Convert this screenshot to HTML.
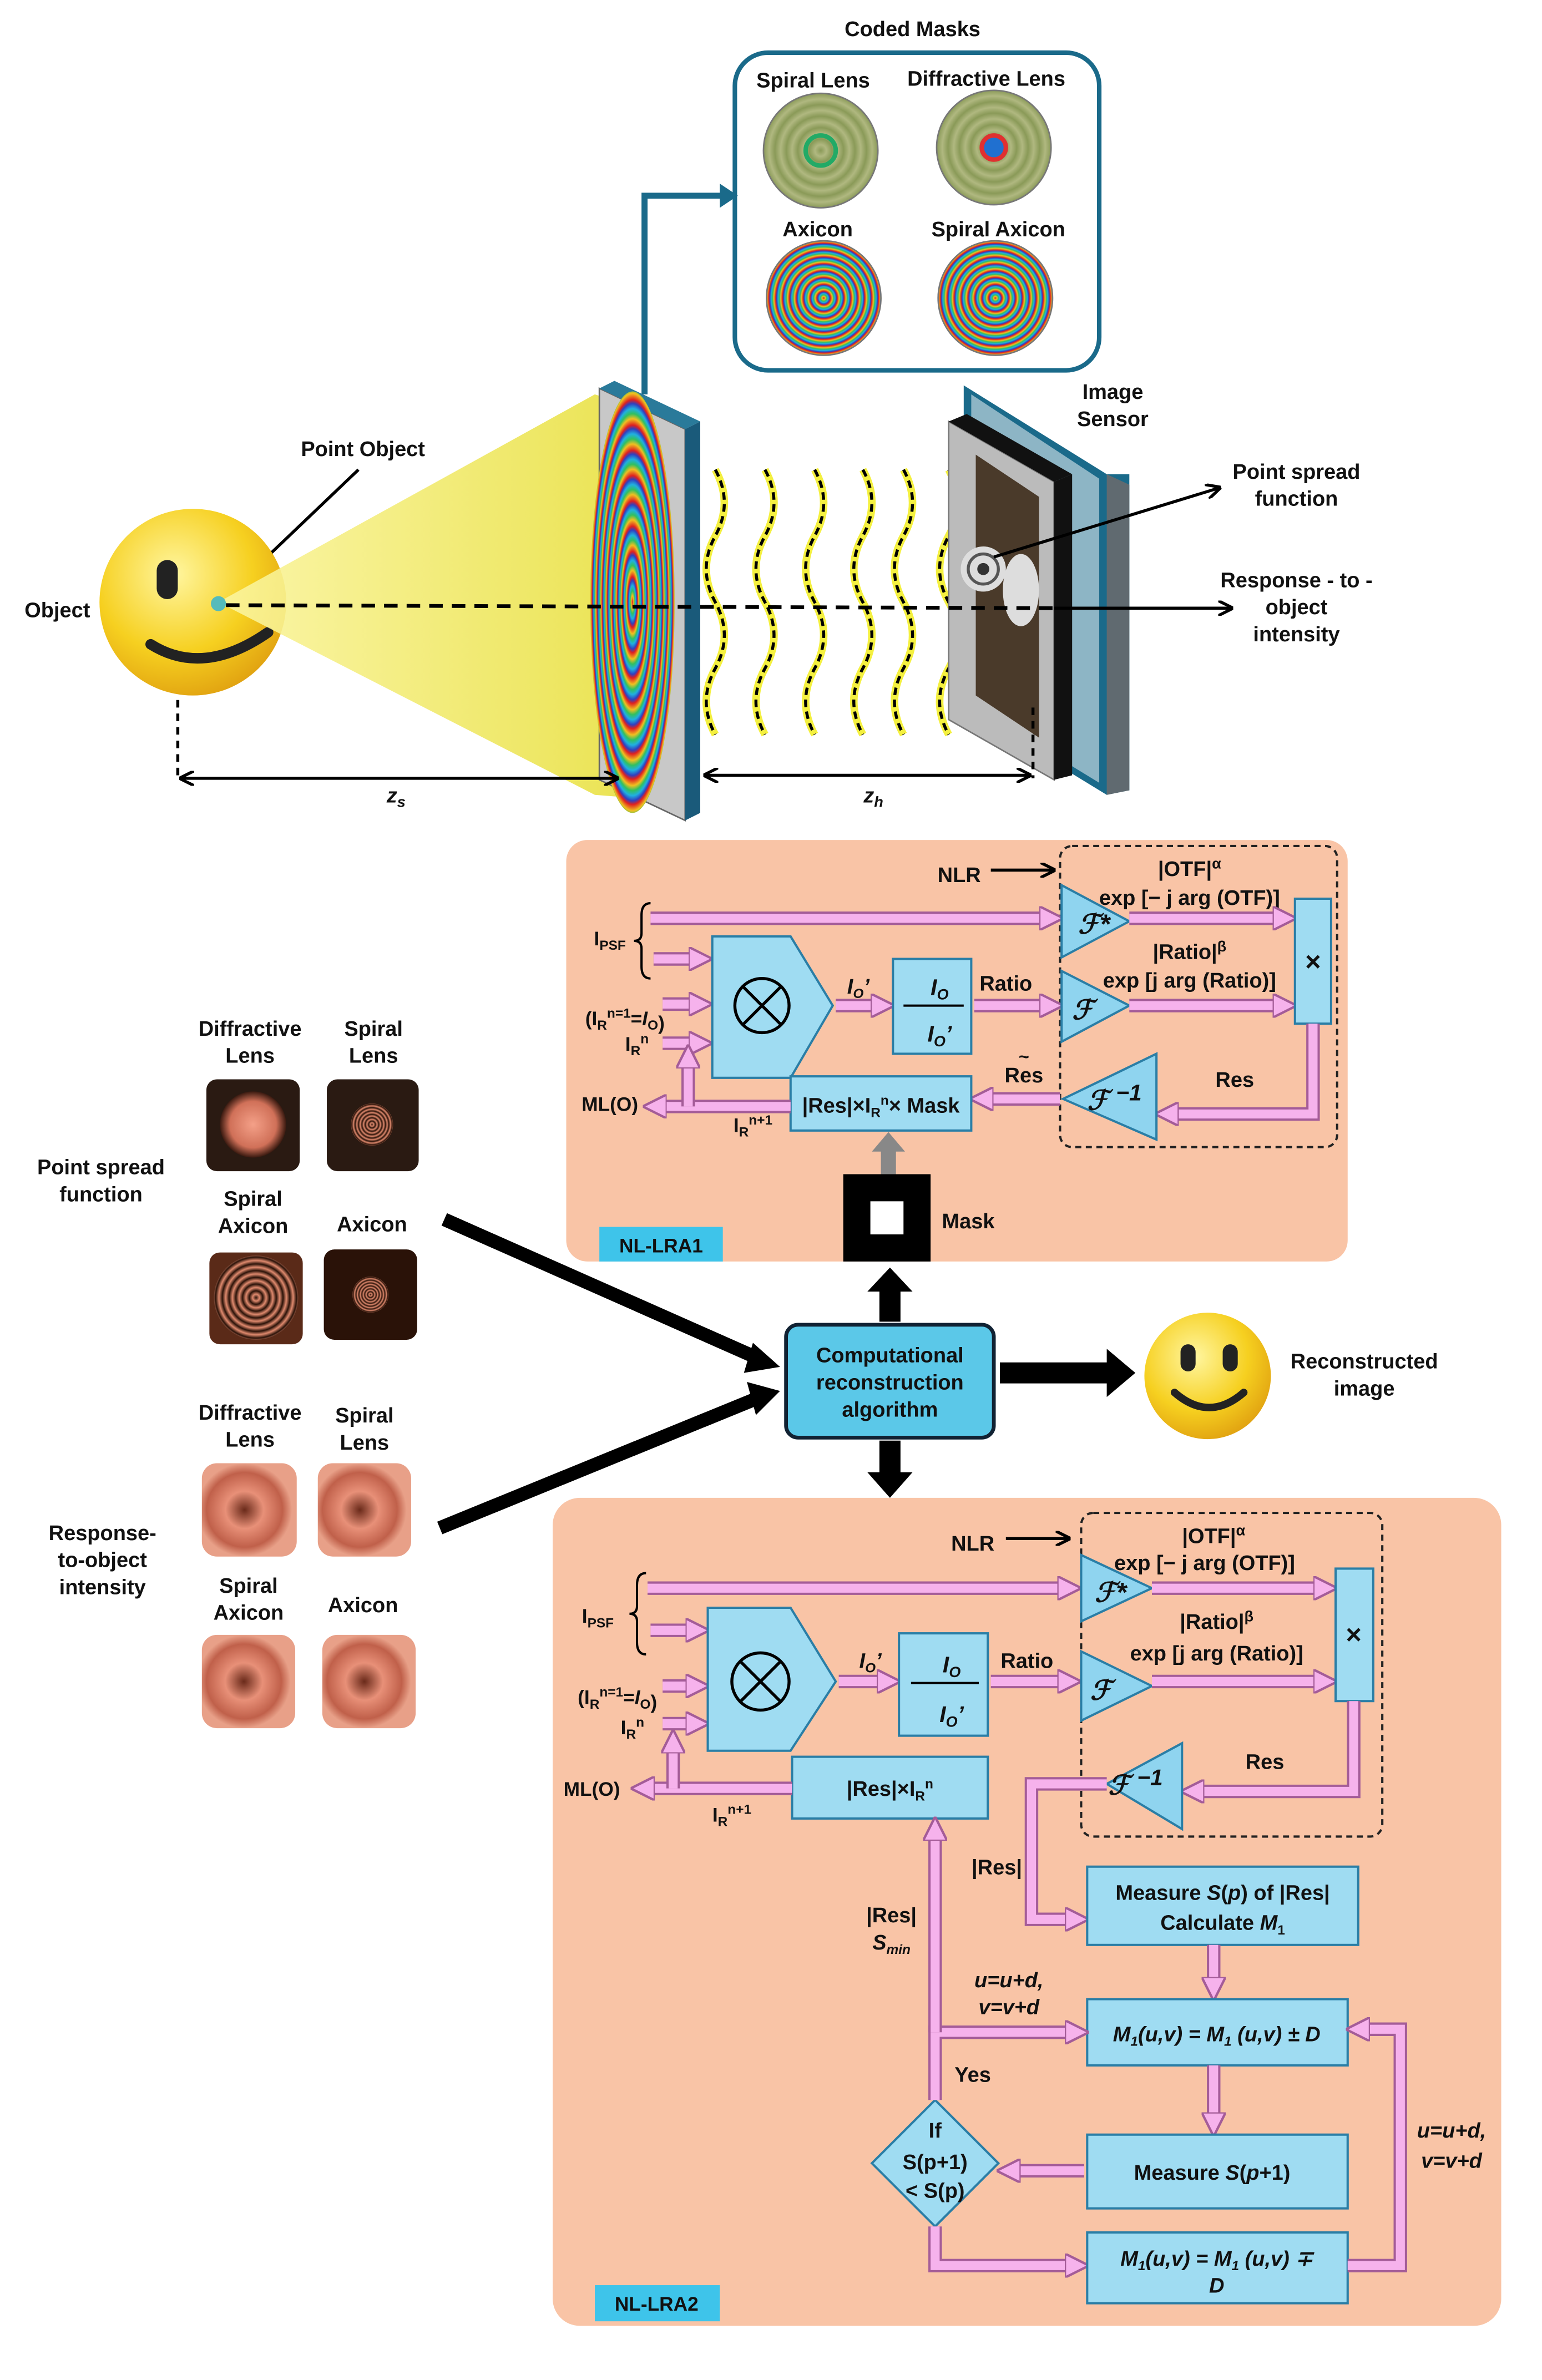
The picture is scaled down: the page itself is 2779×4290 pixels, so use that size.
<!DOCTYPE html>
<html><head><meta charset="utf-8"><style>
html,body{margin:0;padding:0;background:#fff}
svg{display:block}
text{font-family:"Liberation Sans",sans-serif;font-weight:bold;fill:#111}
.po{fill:none;stroke:#a45c98;stroke-width:9;stroke-linejoin:miter}
.pi{fill:none;stroke:#f6b2ec;stroke-width:6;stroke-linejoin:miter}
.bx{fill:#9fdcf2;stroke:#2a7ea6;stroke-width:1.5}
.tri{fill:#8fd4ef;stroke:#2a7ea6;stroke-width:1.5}
.blk{fill:#000}
</style></head><body>
<svg width="2779" height="4290" viewBox="0 0 1024 1581" xmlns="http://www.w3.org/2000/svg">
<defs>
<marker id="pa" viewBox="0 0 10 10" refX="3" refY="5" markerWidth="16" markerHeight="16" markerUnits="userSpaceOnUse" orient="auto">
<path d="M0,0 L10,5 L0,10 z" fill="#f6b2ec" stroke="#a45c98" stroke-width="1"/></marker>
<marker id="ka" viewBox="0 0 10 10" refX="9" refY="5" markerWidth="10" markerHeight="10" markerUnits="userSpaceOnUse" orient="auto">
<path d="M0,0 L10,5 L0,10" fill="none" stroke="#000" stroke-width="2"/></marker>
<marker id="kb" viewBox="0 0 10 10" refX="9" refY="5" markerWidth="10" markerHeight="10" markerUnits="userSpaceOnUse" orient="auto-start-reverse">
<path d="M0,0 L10,5 L0,10" fill="none" stroke="#000" stroke-width="2"/></marker>
<radialGradient id="rain" cx="0.5" cy="0.5" r="0.06" spreadMethod="repeat">
<stop offset="0" stop-color="#e02020"/><stop offset="0.25" stop-color="#f0c020"/><stop offset="0.45" stop-color="#30c060"/><stop offset="0.65" stop-color="#20b0e0"/><stop offset="0.85" stop-color="#3040c0"/><stop offset="1" stop-color="#e02020"/></radialGradient>
<radialGradient id="lens" cx="0.5" cy="0.5" r="0.1" spreadMethod="repeat">
<stop offset="0" stop-color="#8a9a58"/><stop offset="0.5" stop-color="#b0b880"/><stop offset="1" stop-color="#8a9a58"/></radialGradient>
<radialGradient id="smile" cx="0.4" cy="0.35" r="0.7">
<stop offset="0" stop-color="#fff6a0"/><stop offset="0.6" stop-color="#f6d020"/><stop offset="1" stop-color="#e0a010"/></radialGradient>
<linearGradient id="cone" x1="0" x2="1"><stop offset="0" stop-color="#fbf5a0"/><stop offset="1" stop-color="#e8e040"/></linearGradient>
<radialGradient id="psfd" cx="0.5" cy="0.5" r="0.5"><stop offset="0" stop-color="#f4a088"/><stop offset="0.7" stop-color="#d07058"/><stop offset="1" stop-color="#3a1a10"/></radialGradient>
<radialGradient id="psfr" cx="0.5" cy="0.5" r="0.08" spreadMethod="repeat"><stop offset="0" stop-color="#2a1208"/><stop offset="0.5" stop-color="#e08a6e"/><stop offset="1" stop-color="#2a1208"/></radialGradient>
<radialGradient id="resp" cx="0.45" cy="0.5" r="0.5"><stop offset="0" stop-color="#6a2a1a"/><stop offset="0.4" stop-color="#e89078"/><stop offset="0.8" stop-color="#c0604a"/><stop offset="1" stop-color="#e8a088"/></radialGradient>
</defs>

<!-- ===== TOP ===== -->
<text x="606" y="24" font-size="14" text-anchor="middle">Coded Masks</text>
<rect x="488" y="35" width="242" height="211" rx="22" fill="#fff" stroke="#1a6a8a" stroke-width="3"/>
<text x="540" y="58" font-size="14" text-anchor="middle">Spiral Lens</text>
<text x="655" y="57" font-size="14" text-anchor="middle">Diffractive Lens</text>
<text x="543" y="157" font-size="14" text-anchor="middle">Axicon</text>
<text x="663" y="157" font-size="14" text-anchor="middle">Spiral Axicon</text>
<circle cx="545" cy="100" r="38" fill="url(#lens)" stroke="#777"/>
<circle cx="545" cy="100" r="10" fill="none" stroke="#2a6" stroke-width="3"/>
<circle cx="660" cy="98" r="38" fill="url(#lens)" stroke="#777"/>
<circle cx="660" cy="98" r="8" fill="#2070d0" stroke="#e03030" stroke-width="3"/>
<circle cx="547" cy="198" r="38" fill="url(#rain)" stroke="#777"/>
<circle cx="661" cy="198" r="38" fill="url(#rain)" stroke="#777"/>
<polyline points="428,262 428,130 480,130" fill="none" stroke="#1a6a8a" stroke-width="4"/>
<polygon points="478,122 490,130 478,138" fill="#1a6a8a"/>

<!-- object -->
<text x="38" y="410" font-size="14" text-anchor="middle">Object</text>
<text x="241" y="303" font-size="14" text-anchor="middle">Point Object</text>
<line x1="238" y1="312" x2="150" y2="396" stroke="#000" stroke-width="2"/>
<circle cx="128" cy="400" r="62" fill="url(#smile)"/>
<rect x="104" y="372" width="14" height="26" rx="7" fill="#222"/>
<path d="M100,428 Q135,450 178,420" fill="none" stroke="#222" stroke-width="7" stroke-linecap="round"/>
<polygon points="145,400 395,262 420,270 420,530 395,528" fill="url(#cone)" opacity="0.9"/>
<circle cx="145" cy="401" r="5" fill="#5bb"/>
<!-- mask plate -->
<polygon points="398,258 455,285 455,545 398,518" fill="#c8c8c8" stroke="#666"/>
<polygon points="455,285 465,280 465,540 455,545" fill="#1a5a7a"/>
<polygon points="398,258 408,253 465,280 455,285" fill="#2a7a9a"/>
<ellipse cx="420" cy="400" rx="28" ry="140" fill="url(#rain)"/>
<!-- waves -->
<g fill="none">
<g stroke="#f4f040" stroke-width="5">
<path d="M475,312 q12,22 0,44 q-12,22 0,44 q12,22 0,44 q-12,22 0,44"/>
<path d="M508,312 q12,22 0,44 q-12,22 0,44 q12,22 0,44 q-12,22 0,44"/>
<path d="M541,312 q12,22 0,44 q-12,22 0,44 q12,22 0,44 q-12,22 0,44"/>
<path d="M573,312 q12,22 0,44 q-12,22 0,44 q12,22 0,44 q-12,22 0,44"/>
<path d="M600,312 q12,22 0,44 q-12,22 0,44 q12,22 0,44 q-12,22 0,44"/>
<path d="M630,312 q12,22 0,44 q-12,22 0,44 q12,22 0,44 q-12,22 0,44"/>
<path d="M665,312 q12,22 0,44 q-12,22 0,44 q12,22 0,44 q-12,22 0,44"/>
</g>
<g stroke="#000" stroke-width="2" stroke-dasharray="5,3">
<path d="M475,312 q12,22 0,44 q-12,22 0,44 q12,22 0,44 q-12,22 0,44"/>
<path d="M508,312 q12,22 0,44 q-12,22 0,44 q12,22 0,44 q-12,22 0,44"/>
<path d="M541,312 q12,22 0,44 q-12,22 0,44 q12,22 0,44 q-12,22 0,44"/>
<path d="M573,312 q12,22 0,44 q-12,22 0,44 q12,22 0,44 q-12,22 0,44"/>
<path d="M600,312 q12,22 0,44 q-12,22 0,44 q12,22 0,44 q-12,22 0,44"/>
<path d="M630,312 q12,22 0,44 q-12,22 0,44 q12,22 0,44 q-12,22 0,44"/>
<path d="M665,312 q12,22 0,44 q-12,22 0,44 q12,22 0,44 q-12,22 0,44"/>
</g>
</g>
<!-- sensor -->
<polygon points="640,256 735,315 750,315 750,525 735,528 640,470" fill="#1a6a8a"/>
<polygon points="645,262 730,318 730,520 645,468" fill="#fff" opacity="0.5"/>
<polygon points="735,315 750,322 750,525 735,528" fill="#606a70"/>
<polygon points="630,280 700,320 700,518 630,478" fill="#bbb" stroke="#777"/>
<polygon points="700,320 712,315 712,515 700,518" fill="#111"/>
<polygon points="630,280 642,275 712,315 700,320" fill="#111"/>
<polygon points="648,302 690,330 690,490 648,462" fill="#4a3a2a"/>
<circle cx="653" cy="378" r="15" fill="#ddd"/>
<circle cx="653" cy="378" r="10" fill="none" stroke="#555" stroke-width="2"/>
<circle cx="653" cy="378" r="4" fill="#333"/>
<ellipse cx="678" cy="392" rx="12" ry="24" fill="#ddd"/>
<text x="739" y="265" font-size="14" text-anchor="middle">Image</text>
<text x="739" y="283" font-size="14" text-anchor="middle">Sensor</text>
<text x="861" y="318" font-size="14" text-anchor="middle">Point spread</text>
<text x="861" y="336" font-size="14" text-anchor="middle">function</text>
<line x1="660" y1="370" x2="810" y2="324" stroke="#000" stroke-width="2" marker-end="url(#ka)"/>
<text x="861" y="390" font-size="14" text-anchor="middle">Response - to -</text>
<text x="861" y="408" font-size="14" text-anchor="middle">object</text>
<text x="861" y="426" font-size="14" text-anchor="middle">intensity</text>
<line x1="150" y1="402" x2="700" y2="404" stroke="#000" stroke-width="2.5" stroke-dasharray="9,6"/>
<line x1="700" y1="404" x2="818" y2="404" stroke="#000" stroke-width="2" marker-end="url(#ka)"/>
<!-- dimensions -->
<g stroke="#000" stroke-width="2">
<line x1="118" y1="465" x2="118" y2="517" stroke-dasharray="5,4"/>
<line x1="686" y1="470" x2="686" y2="517" stroke-dasharray="5,4"/>
<line x1="120" y1="517" x2="410" y2="517" marker-start="url(#kb)" marker-end="url(#ka)"/>
<line x1="468" y1="515" x2="684" y2="515" marker-start="url(#kb)" marker-end="url(#ka)"/>
</g>
<text x="263" y="533" font-size="14" font-style="italic" text-anchor="middle">z<tspan font-size="10" dy="3">s</tspan></text>
<text x="580" y="533" font-size="14" font-style="italic" text-anchor="middle">z<tspan font-size="10" dy="3">h</tspan></text>

<!-- ===== NL-LRA1 ===== -->
<rect x="376" y="558" width="519" height="280" rx="14" fill="#f9c4a6"/>
<text x="637" y="586" font-size="14" text-anchor="middle">NLR</text>
<line x1="658" y1="578" x2="700" y2="578" stroke="#000" stroke-width="2" marker-end="url(#ka)"/>
<rect x="704" y="562" width="184" height="200" rx="8" fill="none" stroke="#222" stroke-width="1.5" stroke-dasharray="4,3"/>
<text x="790" y="582" font-size="14" text-anchor="middle">|OTF|<tspan font-size="10" dy="-5">α</tspan></text>
<text x="790" y="601" font-size="14" text-anchor="middle">exp [− j arg (OTF)]</text>
<text x="790" y="637" font-size="14" text-anchor="middle">|Ratio|<tspan font-size="10" dy="-5">β</tspan></text>
<text x="790" y="656" font-size="14" text-anchor="middle">exp [j arg (Ratio)]</text>
<text x="405" y="628" font-size="13" text-anchor="middle">I<tspan font-size="9" dy="3">PSF</tspan></text>
<path d="M432,600 q-6,0 -6,8 v12 q0,5 -5,5 q5,0 5,5 v12 q0,8 6,8" fill="none" stroke="#000" stroke-width="1.5"/>
<polyline class="po" points="432,610 695,610"/><polyline class="pi" points="432,610 695,610" marker-end="url(#pa)"/>
<polyline class="po" points="434,637 462,637"/><polyline class="pi" points="434,637 462,637" marker-end="url(#pa)"/>
<polyline class="po" points="440,667 462,667"/><polyline class="pi" points="440,667 462,667" marker-end="url(#pa)"/>
<polyline class="po" points="440,693 462,693"/><polyline class="pi" points="440,693 462,693" marker-end="url(#pa)"/>
<polygon class="bx" points="473,622 525,622 553,668 525,716 473,716"/>
<circle cx="506" cy="668" r="18" fill="none" stroke="#000" stroke-width="2"/>
<path d="M493,655 L519,681 M519,655 L493,681" stroke="#000" stroke-width="2"/>
<text x="415" y="681" font-size="13" text-anchor="middle">(I<tspan font-size="9" dy="3">R</tspan><tspan font-size="9" dy="-8">n=1</tspan><tspan dy="5">=</tspan><tspan font-style="italic">I</tspan><tspan font-size="9" dy="3">O</tspan>)</text>
<text x="423" y="698" font-size="13" text-anchor="middle">I<tspan font-size="9" dy="3">R</tspan><tspan font-size="9" dy="-8">n</tspan></text>
<polyline class="po" points="555,668 583,668"/><polyline class="pi" points="555,668 583,668" marker-end="url(#pa)"/>
<text x="570" y="660" font-size="14" font-style="italic" text-anchor="middle">I<tspan font-size="9" dy="3">O</tspan><tspan dy="-3">’</tspan></text>
<rect class="bx" x="593" y="637" width="52" height="63"/>
<text x="624" y="661" font-size="15" font-style="italic" text-anchor="middle">I<tspan font-size="10" dy="3">O</tspan></text>
<line x1="600" y1="668" x2="640" y2="668" stroke="#000" stroke-width="1.5"/>
<text x="624" y="692" font-size="15" font-style="italic" text-anchor="middle">I<tspan font-size="10" dy="3">O</tspan><tspan dy="-3">’</tspan></text>
<text x="668" y="658" font-size="14" text-anchor="middle">Ratio</text>
<polyline class="po" points="647,668 695,668"/><polyline class="pi" points="647,668 695,668" marker-end="url(#pa)"/>
<polygon class="tri" points="705,588 750,612 705,636"/>
<text x="716" y="620" font-size="18" font-style="italic" font-family="Liberation Serif">ℱ*</text>
<polygon class="tri" points="705,645 750,668 705,692"/>
<text x="712" y="677" font-size="18" font-style="italic" font-family="Liberation Serif">ℱ</text>
<polyline class="po" points="750,610 850,610"/><polyline class="pi" points="750,610 850,610" marker-end="url(#pa)"/>
<polyline class="po" points="750,668 850,668"/><polyline class="pi" points="750,668 850,668" marker-end="url(#pa)"/>
<rect class="bx" x="860" y="597" width="24" height="83"/>
<text x="872" y="645" font-size="18" text-anchor="middle">×</text>
<polyline class="po" points="872,680 872,740 778,740"/><polyline class="pi" points="872,680 872,740 778,740" marker-end="url(#pa)"/>
<text x="820" y="722" font-size="14" text-anchor="middle">Res</text>
<polygon class="tri" points="768,700 768,757 706,730"/>
<text x="722" y="737" font-size="18" font-style="italic" font-family="Liberation Serif">ℱ <tspan font-size="15" dy="-6">−1</tspan></text>
<text x="680" y="719" font-size="14" text-anchor="middle">Res</text>
<text x="680" y="706" font-size="12" text-anchor="middle">~</text>
<polyline class="po" points="704,730 655,730"/><polyline class="pi" points="704,730 655,730" marker-end="url(#pa)"/>
<rect class="bx" x="525" y="715" width="120" height="36"/>
<text x="585" y="739" font-size="14" text-anchor="middle">|Res|×I<tspan font-size="9" dy="3">R</tspan><tspan font-size="9" dy="-8">n</tspan><tspan dy="5">× Mask</tspan></text>
<polyline class="po" points="525,735 438,735"/><polyline class="pi" points="525,735 438,735" marker-end="url(#pa)"/>
<polyline class="po" points="457,735 457,705"/><polyline class="pi" points="457,735 457,705" marker-end="url(#pa)"/>
<text x="405" y="738" font-size="13" text-anchor="middle">ML(O)</text>
<text x="500" y="752" font-size="13" text-anchor="middle">I<tspan font-size="9" dy="3">R</tspan><tspan font-size="9" dy="-8">n+1</tspan></text>
<polygon points="585,780 585,765 579,765 590,752 601,765 595,765 595,780" fill="#888"/>
<rect x="560" y="780" width="58" height="58" fill="#000"/>
<rect x="578" y="798" width="22" height="22" fill="#fff"/>
<text x="643" y="816" font-size="14" text-anchor="middle">Mask</text>
<rect x="398" y="815" width="82" height="23" fill="#3ec4ea"/>
<text x="439" y="832" font-size="13" text-anchor="middle">NL-LRA1</text>

<!-- ===== center ===== -->
<rect x="522" y="880" width="138" height="75" rx="8" fill="#5bc8e8" stroke="#123" stroke-width="2.5"/>
<text x="591" y="905" font-size="14" text-anchor="middle">Computational</text>
<text x="591" y="923" font-size="14" text-anchor="middle">reconstruction</text>
<text x="591" y="941" font-size="14" text-anchor="middle">algorithm</text>
<polygon class="blk" points="584,878 584,858 576,858 591,842 606,858 598,858 598,878"/>
<polygon class="blk" points="584,957 584,978 576,978 591,995 606,978 598,978 598,957"/>
<polygon class="blk" points="664,905 735,905 735,896 754,912 735,928 735,919 664,919"/>
<line x1="295" y1="810" x2="505" y2="903" stroke="#000" stroke-width="9"/>
<polygon class="blk" points="500,892 518,908 494,912"/>
<line x1="292" y1="1015" x2="505" y2="928" stroke="#000" stroke-width="9"/>
<polygon class="blk" points="496,918 518,924 502,940"/>
<circle cx="802" cy="914" r="42" fill="url(#smile)"/>
<rect x="784" y="893" width="10" height="18" rx="5" fill="#222"/>
<rect x="812" y="893" width="10" height="18" rx="5" fill="#222"/>
<path d="M780,925 Q803,945 826,925" fill="none" stroke="#222" stroke-width="5" stroke-linecap="round"/>
<text x="906" y="909" font-size="14" text-anchor="middle">Reconstructed</text>
<text x="906" y="927" font-size="14" text-anchor="middle">image</text>

<!-- left thumbnails -->
<text x="67" y="780" font-size="14" text-anchor="middle">Point spread</text>
<text x="67" y="798" font-size="14" text-anchor="middle">function</text>
<text x="166" y="688" font-size="14" text-anchor="middle">Diffractive</text>
<text x="166" y="706" font-size="14" text-anchor="middle">Lens</text>
<text x="248" y="688" font-size="14" text-anchor="middle">Spiral</text>
<text x="248" y="706" font-size="14" text-anchor="middle">Lens</text>
<rect x="137" y="717" width="62" height="61" rx="7" fill="#2a1a12"/>
<circle cx="168" cy="747" r="22" fill="url(#psfd)"/>
<rect x="217" y="717" width="61" height="61" rx="7" fill="#2a1a12"/>
<circle cx="247" cy="747" r="14" fill="url(#psfr)"/>
<text x="168" y="801" font-size="14" text-anchor="middle">Spiral</text>
<text x="168" y="819" font-size="14" text-anchor="middle">Axicon</text>
<text x="247" y="818" font-size="14" text-anchor="middle">Axicon</text>
<rect x="139" y="832" width="62" height="61" rx="7" fill="#5a2a18"/>
<circle cx="170" cy="862" r="28" fill="url(#psfr)"/>
<rect x="215" y="830" width="62" height="60" rx="7" fill="#2a1208"/>
<circle cx="246" cy="860" r="12" fill="url(#psfr)"/>
<text x="68" y="1023" font-size="14" text-anchor="middle">Response-</text>
<text x="68" y="1041" font-size="14" text-anchor="middle">to-object</text>
<text x="68" y="1059" font-size="14" text-anchor="middle">intensity</text>
<text x="166" y="943" font-size="14" text-anchor="middle">Diffractive</text>
<text x="166" y="961" font-size="14" text-anchor="middle">Lens</text>
<text x="242" y="945" font-size="14" text-anchor="middle">Spiral</text>
<text x="242" y="963" font-size="14" text-anchor="middle">Lens</text>
<rect x="134" y="972" width="63" height="62" rx="10" fill="url(#resp)"/>
<rect x="211" y="972" width="62" height="62" rx="10" fill="url(#resp)"/>
<text x="165" y="1058" font-size="14" text-anchor="middle">Spiral</text>
<text x="165" y="1076" font-size="14" text-anchor="middle">Axicon</text>
<text x="241" y="1071" font-size="14" text-anchor="middle">Axicon</text>
<rect x="134" y="1086" width="62" height="62" rx="10" fill="url(#resp)"/>
<rect x="214" y="1086" width="62" height="62" rx="10" fill="url(#resp)"/>

<!-- ===== NL-LRA2 ===== -->
<rect x="367" y="995" width="630" height="550" rx="18" fill="#f9c4a6"/>
<text x="646" y="1030" font-size="14" text-anchor="middle">NLR</text>
<line x1="668" y1="1022" x2="710" y2="1022" stroke="#000" stroke-width="2" marker-end="url(#ka)"/>
<rect x="718" y="1005" width="200" height="215" rx="8" fill="none" stroke="#222" stroke-width="1.5" stroke-dasharray="4,3"/>
<text x="806" y="1025" font-size="14" text-anchor="middle">|OTF|<tspan font-size="10" dy="-5">α</tspan></text>
<text x="800" y="1043" font-size="14" text-anchor="middle">exp [− j arg (OTF)]</text>
<text x="808" y="1082" font-size="14" text-anchor="middle">|Ratio|<tspan font-size="10" dy="-5">β</tspan></text>
<text x="808" y="1103" font-size="14" text-anchor="middle">exp [j arg (Ratio)]</text>
<text x="397" y="1078" font-size="13" text-anchor="middle">I<tspan font-size="9" dy="3">PSF</tspan></text>
<path d="M429,1045 q-6,0 -6,8 v14 q0,5 -5,5 q5,0 5,5 v14 q0,8 6,8" fill="none" stroke="#000" stroke-width="1.5"/>
<polyline class="po" points="430,1055 707,1055"/><polyline class="pi" points="430,1055 707,1055" marker-end="url(#pa)"/>
<polyline class="po" points="432,1083 460,1083"/><polyline class="pi" points="432,1083 460,1083" marker-end="url(#pa)"/>
<polyline class="po" points="440,1120 460,1120"/><polyline class="pi" points="440,1120 460,1120" marker-end="url(#pa)"/>
<polyline class="po" points="440,1145 460,1145"/><polyline class="pi" points="440,1145 460,1145" marker-end="url(#pa)"/>
<polygon class="bx" points="470,1068 525,1068 555,1117 525,1163 470,1163"/>
<circle cx="505" cy="1117" r="19" fill="none" stroke="#000" stroke-width="2"/>
<path d="M492,1104 L518,1130 M518,1104 L492,1130" stroke="#000" stroke-width="2"/>
<text x="410" y="1132" font-size="13" text-anchor="middle">(I<tspan font-size="9" dy="3">R</tspan><tspan font-size="9" dy="-8">n=1</tspan><tspan dy="5">=</tspan><tspan font-style="italic">I</tspan><tspan font-size="9" dy="3">O</tspan>)</text>
<text x="420" y="1152" font-size="13" text-anchor="middle">I<tspan font-size="9" dy="3">R</tspan><tspan font-size="9" dy="-8">n</tspan></text>
<polyline class="po" points="557,1117 587,1117"/><polyline class="pi" points="557,1117 587,1117" marker-end="url(#pa)"/>
<text x="578" y="1108" font-size="14" font-style="italic" text-anchor="middle">I<tspan font-size="9" dy="3">O</tspan><tspan dy="-3">’</tspan></text>
<rect class="bx" x="597" y="1085" width="59" height="68"/>
<text x="632" y="1111" font-size="15" font-style="italic" text-anchor="middle">I<tspan font-size="10" dy="3">O</tspan></text>
<line x1="605" y1="1118" x2="650" y2="1118" stroke="#000" stroke-width="1.5"/>
<text x="632" y="1144" font-size="15" font-style="italic" text-anchor="middle">I<tspan font-size="10" dy="3">O</tspan><tspan dy="-3">’</tspan></text>
<text x="682" y="1108" font-size="14" text-anchor="middle">Ratio</text>
<polyline class="po" points="658,1117 707,1117"/><polyline class="pi" points="658,1117 707,1117" marker-end="url(#pa)"/>
<polygon class="tri" points="718,1033 765,1055 718,1077"/>
<text x="727" y="1064" font-size="18" font-style="italic" font-family="Liberation Serif">ℱ*</text>
<polygon class="tri" points="718,1097 765,1120 718,1143"/>
<text x="724" y="1129" font-size="18" font-style="italic" font-family="Liberation Serif">ℱ</text>
<polyline class="po" points="765,1055 877,1055"/><polyline class="pi" points="765,1055 877,1055" marker-end="url(#pa)"/>
<polyline class="po" points="765,1117 877,1117"/><polyline class="pi" points="765,1117 877,1117" marker-end="url(#pa)"/>
<rect class="bx" x="887" y="1042" width="25" height="88"/>
<text x="899" y="1092" font-size="18" text-anchor="middle">×</text>
<polyline class="po" points="899,1130 899,1190 795,1190"/><polyline class="pi" points="899,1130 899,1190 795,1190" marker-end="url(#pa)"/>
<text x="840" y="1175" font-size="14" text-anchor="middle">Res</text>
<polygon class="tri" points="785,1158 785,1215 735,1185"/>
<text x="736" y="1192" font-size="18" font-style="italic" font-family="Liberation Serif">ℱ <tspan font-size="15" dy="-6">−1</tspan></text>
<polyline class="po" points="735,1185 685,1185 685,1275 712,1275"/><polyline class="pi" points="735,1185 685,1185 685,1275 712,1275" marker-end="url(#pa)"/>
<text x="662" y="1245" font-size="14" text-anchor="middle">|Res|</text>
<rect class="bx" x="526" y="1167" width="130" height="41"/>
<text x="591" y="1193" font-size="14" text-anchor="middle">|Res|×I<tspan font-size="9" dy="3">R</tspan><tspan font-size="9" dy="-8">n</tspan></text>
<polyline class="po" points="526,1188 430,1188"/><polyline class="pi" points="526,1188 430,1188" marker-end="url(#pa)"/>
<polyline class="po" points="447,1188 447,1160"/><polyline class="pi" points="447,1188 447,1160" marker-end="url(#pa)"/>
<text x="393" y="1193" font-size="13" text-anchor="middle">ML(O)</text>
<text x="486" y="1210" font-size="13" text-anchor="middle">I<tspan font-size="9" dy="3">R</tspan><tspan font-size="9" dy="-8">n+1</tspan></text>
<rect class="bx" x="722" y="1240" width="180" height="52"/>
<text x="812" y="1262" font-size="14" text-anchor="middle">Measure <tspan font-style="italic">S</tspan>(<tspan font-style="italic">p</tspan>) of |Res|</text>
<text x="812" y="1282" font-size="14" text-anchor="middle">Calculate <tspan font-style="italic">M</tspan><tspan font-size="9" dy="3">1</tspan></text>
<polyline class="po" points="806,1292 806,1318"/><polyline class="pi" points="806,1292 806,1318" marker-end="url(#pa)"/>
<rect class="bx" x="722" y="1328" width="173" height="44"/>
<text x="808" y="1356" font-size="14" font-style="italic" text-anchor="middle">M<tspan font-size="9" dy="3">1</tspan><tspan dy="-3">(u,v) = M</tspan><tspan font-size="9" dy="3">1</tspan><tspan dy="-3"> (u,v) ± D</tspan></text>
<polyline class="po" points="806,1372 806,1408"/><polyline class="pi" points="806,1372 806,1408" marker-end="url(#pa)"/>
<rect class="bx" x="722" y="1418" width="173" height="49"/>
<text x="805" y="1448" font-size="14" text-anchor="middle">Measure <tspan font-style="italic">S</tspan>(<tspan font-style="italic">p</tspan>+1)</text>
<polygon class="bx" points="621,1395 663,1437 621,1479 579,1437"/>
<text x="621" y="1420" font-size="14" text-anchor="middle">If</text>
<text x="621" y="1441" font-size="14" text-anchor="middle">S(p+1)</text>
<text x="621" y="1460" font-size="14" text-anchor="middle">&lt; S(p)</text>
<polyline class="po" points="720,1442 673,1442"/><polyline class="pi" points="720,1442 673,1442" marker-end="url(#pa)"/>
<polyline class="po" points="621,1479 621,1505 712,1505"/><polyline class="pi" points="621,1479 621,1505 712,1505" marker-end="url(#pa)"/>
<rect class="bx" x="722" y="1483" width="173" height="47"/>
<text x="808" y="1505" font-size="14" font-style="italic" text-anchor="middle">M<tspan font-size="9" dy="3">1</tspan><tspan dy="-3">(u,v) = M</tspan><tspan font-size="9" dy="3">1</tspan><tspan dy="-3"> (u,v) ∓</tspan></text>
<text x="808" y="1523" font-size="14" font-style="italic" text-anchor="middle">D</text>
<polyline class="po" points="895,1505 930,1505 930,1348 905,1348"/><polyline class="pi" points="895,1505 930,1505 930,1348 905,1348" marker-end="url(#pa)"/>
<text x="964" y="1420" font-size="14" font-style="italic" text-anchor="middle">u=u+d,</text>
<text x="964" y="1440" font-size="14" font-style="italic" text-anchor="middle">v=v+d</text>
<polyline class="po" points="621,1395 621,1350 712,1350"/><polyline class="pi" points="621,1395 621,1350 712,1350" marker-end="url(#pa)"/>
<polyline class="po" points="621,1350 621,1218"/><polyline class="pi" points="621,1350 621,1218" marker-end="url(#pa)"/>
<text x="646" y="1383" font-size="14" text-anchor="middle">Yes</text>
<text x="670" y="1320" font-size="14" font-style="italic" text-anchor="middle">u=u+d,</text>
<text x="670" y="1338" font-size="14" font-style="italic" text-anchor="middle">v=v+d</text>
<text x="592" y="1277" font-size="14" text-anchor="middle">|Res|</text>
<text x="592" y="1295" font-size="14" font-style="italic" text-anchor="middle">S<tspan font-size="9" dy="3">min</tspan></text>
<rect x="395" y="1518" width="83" height="24" fill="#3ec4ea"/>
<text x="436" y="1535" font-size="13" text-anchor="middle">NL-LRA2</text>
</svg>
</body></html>
